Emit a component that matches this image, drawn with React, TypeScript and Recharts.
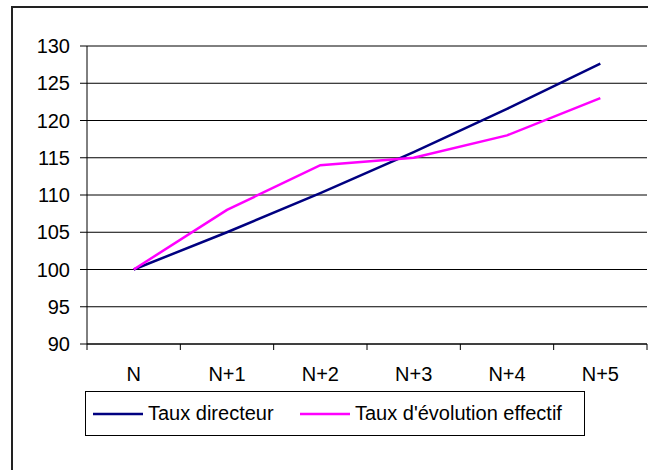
import React from 'react';
import { LineChart, Line, XAxis, YAxis, CartesianGrid, Legend } from 'recharts';

const CATEGORIES = ['N', 'N+1', 'N+2', 'N+3', 'N+4', 'N+5'];
const TAUX_DIRECTEUR = [100, 105, 110.25, 115.76, 121.55, 127.63];
const TAUX_EFFECTIF = [100, 108, 114, 115, 118, 123];
const Y_TICKS = [90, 95, 100, 105, 110, 115, 120, 125, 130];
const SERIES = [
  { key: 'directeur', name: 'Taux directeur', color: '#000080' },
  { key: 'effectif', name: "Taux d'évolution effectif", color: '#FF00FF' },
];

const data = CATEGORIES.map((c, i) => ({
  cat: c,
  directeur: TAUX_DIRECTEUR[i],
  effectif: TAUX_EFFECTIF[i],
}));

const W = 648;
const H = 470;
const Y_AXIS_W = 87;
const RIGHT = 1;
const PLOT_W = W - Y_AXIS_W - RIGHT;
const HALF_BAND = PLOT_W / CATEGORIES.length / 2;
const FONT = '"Liberation Sans", Arial, sans-serif';
const FS = 20;
const X_TICK_SIZE = 6;
const X_TICK_MARGIN = 17;

const XTick = (props: any) => {
  const { x, y, payload, index } = props;
  const axisY = y - X_TICK_SIZE - X_TICK_MARGIN;
  const last = index === CATEGORIES.length - 1;
  return (
    <g>
      <line x1={x - HALF_BAND} x2={x - HALF_BAND} y1={axisY} y2={axisY + X_TICK_SIZE} stroke="#000" strokeWidth={1} />
      {last && <line x1={x + HALF_BAND} x2={x + HALF_BAND} y1={axisY} y2={axisY + X_TICK_SIZE} stroke="#000" strokeWidth={1} />}
      <text x={x} y={y} dy="0.71em" textAnchor="middle" fontSize={FS} fontFamily={FONT} fill="#000">
        {payload.value}
      </text>
    </g>
  );
};

const LegendContent = () => {
  const lefts = [7, 214];
  return (
    <div
      style={{
        position: 'relative',
        boxSizing: 'border-box',
        width: 500,
        height: 45,
        border: '1px solid #000',
        background: '#fff',
        fontFamily: FONT,
        fontSize: FS,
      }}
    >
      {SERIES.map((s, i) => (
        <div
          key={s.key}
          style={{
            position: 'absolute',
            left: lefts[i],
            top: 0,
            height: 43,
            display: 'flex',
            alignItems: 'center',
            whiteSpace: 'nowrap',
          }}
        >
          <svg width={50} height={4} style={{ marginRight: 5 }}>
            <line x1={0} x2={50} y1={2} y2={2} stroke={s.color} strokeWidth={2.5} />
          </svg>
          <span>{s.name}</span>
        </div>
      ))}
    </div>
  );
};

export default function App() {
  return (
    <div style={{ position: 'absolute', left: 0, top: 0, width: W, height: H, overflow: 'hidden', background: '#fff' }}>
      <div
        style={{
          position: 'absolute',
          left: 11,
          top: 6,
          width: 700,
          height: 600,
          borderLeft: '2px solid #222',
          borderTop: '2px solid #222',
        }}
      />
      <div style={{ position: 'absolute', left: 0, top: 0 }}>
        <LineChart width={W} height={H} data={data} margin={{ top: 46, right: RIGHT, left: 0, bottom: 86 }}>
          <CartesianGrid vertical={false} stroke="#000" strokeWidth={1} />
          <XAxis
            dataKey="cat"
            padding={{ left: HALF_BAND, right: HALF_BAND }}
            axisLine={{ stroke: '#000' }}
            tickLine={false}
            tickSize={X_TICK_SIZE}
            tickMargin={X_TICK_MARGIN}
            height={40}
            tick={<XTick />}
            interval={0}
          />
          <YAxis
            width={Y_AXIS_W}
            domain={[90, 130]}
            ticks={Y_TICKS}
            axisLine={{ stroke: '#000' }}
            tickLine={{ stroke: '#000' }}
            tickSize={7}
            tickMargin={10}
            tick={{ fontSize: FS, fontFamily: FONT, fill: '#000' }}
            interval={0}
          />
          {SERIES.map((s) => (
            <Line
              key={s.key}
              type="linear"
              dataKey={s.key}
              name={s.name}
              stroke={s.color}
              strokeWidth={2.5}
              dot={false}
              isAnimationActive={false}
            />
          ))}
          <Legend
            layout="horizontal"
            verticalAlign="middle"
            align="center"
            wrapperStyle={{ left: 85, top: 391, width: 500, height: 45 }}
            content={<LegendContent />}
          />
        </LineChart>
      </div>
    </div>
  );
}
